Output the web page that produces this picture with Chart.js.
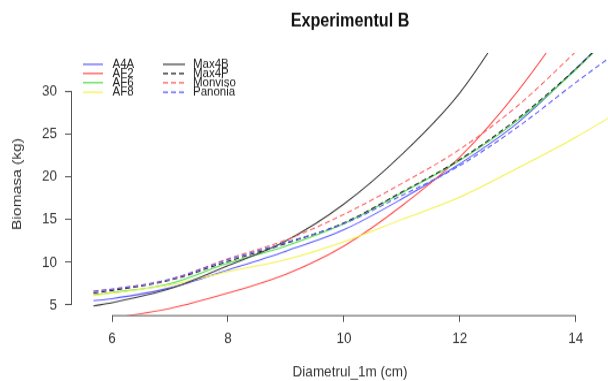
<!DOCTYPE html>
<html>
<head>
<meta charset="utf-8">
<script src="https://cdn.jsdelivr.net/npm/chart.js@4"></script>
<style>
  html, body { margin: 0; padding: 0; width: 608px; height: 381px; overflow: hidden; background: #fff; }
  /* the reference is a slightly stretched R plot, so stretch the canvas vertically;
     the canvas is a bit wider than the window because the R plot region runs past the right edge */
  #wrap { position: absolute; left: 0; top: 0; width: 628px; height: 331px; transform: scaleY(1.151); transform-origin: 0 0; }
  #spacer { height: 381px; }
</style>
</head>
<body>
<div id="spacer"></div>
<div id="wrap"><canvas id="grafic" width="628" height="331"></canvas></div>
<script>
// diametrul la 1m (cm)
const diametru = [5.68, 6, 7, 8, 9, 10, 11, 12, 13, 14, 14.6];

// biomasa (kg) pe clone
const a4a     = [5.5, 5.75, 7.0, 9.1, 11.3, 13.8, 17.4, 21.5, 26.3, 32.6, 36.6];
const af2     = [3.2, 3.5, 4.6, 6.4, 8.6, 11.9, 16.6, 22.3, 30.0, 39.5, 46.0];
const af6     = [6.2, 6.45, 7.5, 9.9, 11.9, 14.5, 18.1, 21.9, 26.6, 32.5, 36.5];
const af8     = [6.1, 6.4, 7.35, 8.9, 10.3, 12.4, 15.0, 17.6, 21.0, 24.6, 27.0];
const max4b   = [4.9, 5.27, 6.9, 9.6, 12.5, 16.8, 22.6, 29.8, 40.0, 52.0, 60.0];
const max4p   = [6.4, 6.7, 7.9, 10.1, 12.2, 14.6, 18.2, 22.0, 26.8, 32.6, 36.6];
const monviso = [6.6, 6.85, 8.0, 10.4, 12.6, 15.6, 19.2, 23.2, 28.3, 34.6, 38.5];
const panonia = [6.6, 6.85, 8.0, 10.3, 12.3, 14.5, 17.8, 21.3, 25.8, 31.0, 34.0];

const clone = ['A4A', 'AF2', 'AF6', 'AF8', 'Max4B', 'Max4P', 'Monviso', 'Panonia'];
const serii = [a4a, af2, af6, af8, max4b, max4p, monviso, panonia];

const xTicks = [6, 8, 10, 12, 14];
const yTicks = [5, 10, 15, 20, 25, 30];

// stiluri
const culori = ['#5a5aff', '#ff4a4a', '#4ede4e', '#f2f250', '#3a3a3a', '#222222', '#ff5f5f', '#5a5aff'];
const punctat = [false, false, false, false, false, true, true, true];

const font = '"Liberation Sans", Arial, sans-serif';
Chart.defaults.font.family = font;

const datasets = clone.map((nume, i) => ({
  label: nume,
  data: diametru.map((d, k) => ({ x: d, y: serii[i][k] })),
  borderColor: culori[i],
  borderWidth: 1.05,
  borderDash: punctat[i] ? [5, 3] : [],
  pointRadius: 0,
  cubicInterpolationMode: 'monotone',
  fill: false,
  clip: 0,
  order: clone.length - i
}));

// axe in stil R (linia doar intre primul si ultimul tick) + legenda
const axeR = {
  id: 'axeR',
  afterDraw(chart) {
    const { ctx, chartArea, scales: { x, y } } = chart;
    ctx.save();
    ctx.strokeStyle = '#555';
    ctx.lineWidth = 1;
    ctx.beginPath();
    ctx.moveTo(x.getPixelForValue(xTicks[0]), chartArea.bottom + 0.5);
    ctx.lineTo(x.getPixelForValue(xTicks[xTicks.length - 1]), chartArea.bottom + 0.5);
    ctx.moveTo(chartArea.left - 0.5, y.getPixelForValue(yTicks[0]));
    ctx.lineTo(chartArea.left - 0.5, y.getPixelForValue(yTicks[yTicks.length - 1]));
    ctx.stroke();

    // legenda: doua coloane a cate 4 randuri
    const rows = [55.9, 63.8, 71.8, 80.1];
    const cols = [{ x0: 83, x1: 103, tx: 112.5 }, { x0: 163, x1: 185, tx: 193 }];
    ctx.font = '11.5px ' + font;
    ctx.textBaseline = 'middle';
    ctx.fillStyle = '#222';
    chart.data.datasets.forEach((ds, i) => {
      const c = cols[Math.floor(i / 4)];
      const ry = rows[i % 4];
      ctx.strokeStyle = ds.borderColor;
      ctx.lineWidth = 1.2;
      ctx.setLineDash(ds.borderDash);
      ctx.beginPath();
      ctx.moveTo(c.x0, ry);
      ctx.lineTo(c.x1, ry);
      ctx.stroke();
      ctx.setLineDash([]);
      ctx.fillText(ds.label, c.tx, ry);
    });
    ctx.restore();
  }
};

new Chart(document.getElementById('grafic'), {
  type: 'line',
  data: { datasets },
  plugins: [axeR],
  options: {
    responsive: false,
    animation: false,
    layout: { padding: 0 },
    plugins: {
      legend: { display: false },
      tooltip: { enabled: false },
      title: {
        display: true,
        text: 'Experimentul B',
        fullSize: false,
        color: '#111',
        font: { size: 16.2, weight: 'bold' },
        padding: { top: 8.5, bottom: 18.1 }
      }
    },
    scales: {
      x: {
        type: 'linear',
        min: 5.31,
        max: 14.9,
        afterBuildTicks: s => { s.ticks = xTicks.map(v => ({ value: v })); },
        afterFit: s => { s.height = 57.3; },
        grid: { display: true, drawOnChartArea: false, drawTicks: true, tickLength: 6, color: '#555' },
        border: { display: false },
        ticks: { color: '#333', font: { size: 13.5 }, padding: 6, maxRotation: 0, callback: v => String(v) },
        title: { display: true, text: 'Diametrul_1m (cm)', color: '#333', font: { size: 13.5 }, padding: { top: 0, bottom: 0 } }
      },
      y: {
        type: 'linear',
        min: 3.83,
        max: 34.44,
        afterBuildTicks: s => { s.ticks = yTicks.map(v => ({ value: v })); },
        afterFit: s => { s.width = 72; },
        grid: { display: true, drawOnChartArea: false, drawTicks: true, tickLength: 7, color: '#555' },
        border: { display: false },
        ticks: { color: '#333', font: { size: 13.5 }, padding: 8, callback: v => String(v) },
        title: { display: true, text: 'Biomasa (kg)', color: '#333', font: { size: 13.5 }, padding: { top: 9, bottom: 0 } }
      }
    }
  }
});
</script>
</body>
</html>
